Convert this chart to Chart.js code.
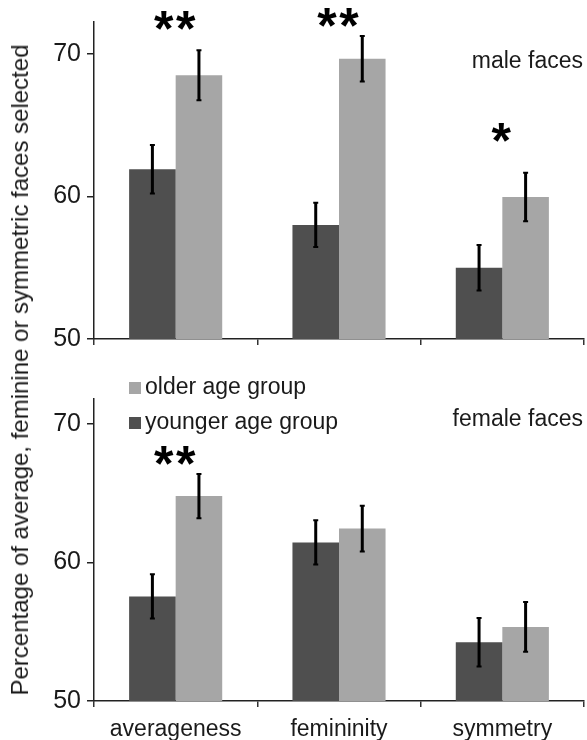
<!DOCTYPE html>
<html>
<head>
<meta charset="utf-8">
<script src="https://cdn.jsdelivr.net/npm/chart.js@4.4.0/dist/chart.umd.min.js"></script>
<style>
  html, body { margin:0; padding:0; background:#fff; }
  #wrap { position:relative; width:587px; height:740px; overflow:hidden; }
  #c1 { position:absolute; left:0; top:0; }
  #c2 { position:absolute; left:0; top:360px; }
  #ytitle { position:absolute; left:20px; top:370px; transform:translate(-50%,-50%) rotate(-90deg);
    white-space:nowrap; font-family:"Liberation Sans", Arial, sans-serif; font-size:24px; color:#1a1a1a; }
</style>
</head>
<body>
<div id="wrap">
  <canvas id="c1" width="587" height="360"></canvas>
  <canvas id="c2" width="587" height="380"></canvas>
  <div id="ytitle">Percentage of average, feminine or symmetric faces selected</div>
</div>
<script>
// ---- data ----
const categories = ['averageness', 'femininity', 'symmetry'];
const seriesLabels = ['younger age group', 'older age group'];
const yTicks = [50, 60, 70];

const maleYounger    = [61.9, 58.0, 55.0];
const maleYoungerErr = [1.7, 1.55, 1.6];
const maleOlder      = [68.5, 69.65, 59.95];
const maleOlderErr   = [1.75, 1.6, 1.7];

const femaleYounger    = [57.55, 61.45, 54.25];
const femaleYoungerErr = [1.6, 1.6, 1.75];
const femaleOlder      = [64.8, 62.45, 55.35];
const femaleOlderErr   = [1.6, 1.65, 1.8];

const maleStars    = ['**', '**', '*'];
const maleStarY    = [72.16, 72.37, 64.29];
const femaleStars  = ['**', '', ''];
const femaleStarY  = [67.53, null, null];

const panelLabels = ['male faces', 'female faces'];

const darkColor = '#4f4f4f';
const lightColor = '#a6a6a6';
const FONT = '"Liberation Sans", Arial, sans-serif';

Chart.defaults.font.family = FONT;
Chart.defaults.font.size = 23;
Chart.defaults.color = '#1a1a1a';

const errorBarPlugin = {
  id: 'errorBars',
  afterDatasetsDraw(chart) {
    const ctx = chart.ctx;
    const y = chart.scales.y;
    ctx.save();
    ctx.strokeStyle = '#000';
    chart.data.datasets.forEach((ds, di) => {
      const meta = chart.getDatasetMeta(di);
      meta.data.forEach((bar, i) => {
        const v = ds.data[i], e = ds.errors[i];
        const yt = y.getPixelForValue(v + e), yb = y.getPixelForValue(v - e);
        ctx.lineWidth = 3;
        ctx.beginPath(); ctx.moveTo(bar.x, yt); ctx.lineTo(bar.x, yb); ctx.stroke();
        ctx.lineWidth = 2;
        ctx.beginPath();
        ctx.moveTo(bar.x - 2.5, yt); ctx.lineTo(bar.x + 2.5, yt);
        ctx.moveTo(bar.x - 2.5, yb); ctx.lineTo(bar.x + 2.5, yb);
        ctx.stroke();
      });
    });
    ctx.restore();
  }
};

const annotPlugin = {
  id: 'annot',
  afterDraw(chart, args, opts) {
    const ctx = chart.ctx;
    const x = chart.scales.x, y = chart.scales.y;
    const size = 50;
    ctx.save();
    ctx.fillStyle = '#000';
    ctx.font = 'bold ' + size + 'px ' + FONT;
    ctx.textAlign = 'center';
    ctx.textBaseline = 'alphabetic';
    opts.stars.forEach((s, i) => {
      if (!s) return;
      const cx = x.getPixelForValue(i) - 1;
      const cy = y.getPixelForValue(opts.starY[i]) + size * 0.46;
      const n = s.length;
      for (let k = 0; k < n; k++) {
        ctx.fillText('*', cx + (k - (n - 1) / 2) * 22, cy);
      }
    });
    // panel label
    ctx.font = '23px ' + FONT;
    ctx.fillStyle = '#1a1a1a';
    ctx.textAlign = 'right';
    ctx.textBaseline = 'middle';
    ctx.fillText(opts.panel, chart.chartArea.right - 1, opts.panelY);
    // legend
    if (opts.legend) {
      ctx.textAlign = 'left';
      const items = [chart.data.datasets[1], chart.data.datasets[0]];
      items.forEach((ds, k) => {
        const cy = 28 + k * 35;
        ctx.fillStyle = ds.backgroundColor;
        ctx.fillRect(129, cy - 6, 12, 12);
        ctx.fillStyle = '#1a1a1a';
        ctx.fillText(ds.label, 145, cy);
      });
    }
    ctx.restore();
  }
};

function makeChart(id, younger, yErr, older, oErr, maxV, padTop, xHeight, showLabels, annot) {
  return new Chart(document.getElementById(id), {
    type: 'bar',
    data: {
      labels: categories,
      datasets: [
        { label: seriesLabels[0], data: younger, errors: yErr, backgroundColor: darkColor, borderWidth: 0 },
        { label: seriesLabels[1], data: older, errors: oErr, backgroundColor: lightColor, borderWidth: 0 }
      ]
    },
    options: {
      responsive: false,
      animation: false,
      devicePixelRatio: 1,
      categoryPercentage: 0.57,
      barPercentage: 1.0,
      layout: { padding: { left: 0, right: 3, top: padTop, bottom: 0 } },
      plugins: { legend: { display: false }, tooltip: { enabled: false }, annot: annot },
      scales: {
        x: {
          grid: { display: true, drawOnChartArea: false, drawTicks: true, tickLength: 6, color: '#333', lineWidth: 1.5, offset: true },
          border: { display: true, color: '#222', width: 1.5 },
          ticks: { display: showLabels, padding: 9, color: '#1a1a1a', font: { size: 23 } },
          afterFit(s) { s.height = xHeight; }
        },
        y: {
          min: 50, max: maxV,
          afterBuildTicks(s) { s.ticks = yTicks.map(v => ({ value: v })); },
          grid: { display: true, drawOnChartArea: false, drawTicks: true, tickLength: 7, color: '#222', lineWidth: 1.5 },
          border: { display: true, color: '#222', width: 1.5 },
          ticks: { padding: 6, color: '#1a1a1a', font: { size: 25 } },
          afterFit(s) { s.width = 94; }
        }
      }
    },
    plugins: [errorBarPlugin, annotPlugin]
  });
}

makeChart('c1', maleYounger, maleYoungerErr, maleOlder, maleOlderErr, 72.23, 22, 19, false,
  { stars: maleStars, starY: maleStarY, panel: panelLabels[0], panelY: 62, legend: false });
makeChart('c2', femaleYounger, femaleYoungerErr, femaleOlder, femaleOlderErr, 71.81, 39, 39, true,
  { stars: femaleStars, starY: femaleStarY, panel: panelLabels[1], panelY: 60, legend: true });
</script>
</body>
</html>
